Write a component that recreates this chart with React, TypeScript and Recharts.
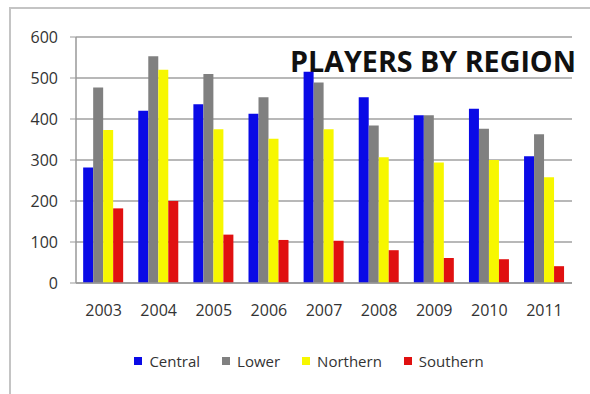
import { BarChart, Bar, XAxis, YAxis, CartesianGrid, Legend } from "recharts";

const YEARS = ["2003", "2004", "2005", "2006", "2007", "2008", "2009", "2010", "2011"];
const CENTRAL = [282, 420, 436, 413, 515, 453, 409, 425, 309];
const LOWER = [477, 553, 510, 453, 489, 384, 409, 376, 363];
const NORTHERN = [373, 520, 375, 352, 375, 307, 294, 300, 258];
const SOUTHERN = [182, 200, 118, 105, 103, 80, 61, 58, 41];
const Y_TICKS = [0, 100, 200, 300, 400, 500, 600];

const SERIES = [
  { key: "central", label: "Central", color: "#0a0ae6" },
  { key: "lower", label: "Lower", color: "#808080" },
  { key: "northern", label: "Northern", color: "#f7f700" },
  { key: "southern", label: "Southern", color: "#e01010" },
];

const data = YEARS.map((year, i) => ({
  year,
  central: CENTRAL[i],
  lower: LOWER[i],
  northern: NORTHERN[i],
  southern: SOUTHERN[i],
}));

const FONT = "'Open Sans', sans-serif";

function renderLegend(props: any) {
  const { payload } = props;
  return (
    <div style={{ display: "flex", justifyContent: "center", fontFamily: FONT, fontSize: 15, color: "#333" }}>
      {payload.map((p: any, i: number) => (
        <span
          key={p.value}
          style={{ display: "inline-flex", alignItems: "center", marginRight: i === payload.length - 1 ? 0 : 22 }}
        >
          <span style={{ width: 8, height: 8, background: p.color, display: "inline-block", marginRight: 7 }} />
          {p.value}
        </span>
      ))}
    </div>
  );
}

export default function App() {
  return (
    <div style={{ position: "fixed", left: 0, top: 0, width: 590, height: 394, background: "#fff" }}>
      <div
        style={{
          position: "absolute",
          left: 9,
          top: 7,
          right: 0,
          bottom: 0,
          borderLeft: "2px solid #c4c4c4",
          borderTop: "2px solid #c4c4c4",
        }}
      />
      <BarChart
        width={590}
        height={394}
        data={data}
        margin={{ top: 37, right: 18, left: 0, bottom: 61 }}
        barCategoryGap="13%"
        barGap={0}
        style={{ position: "absolute", left: 0, top: 0 }}
      >
        <CartesianGrid vertical={false} stroke="#a0a0a0" strokeWidth={1.5} />
        <XAxis
          dataKey="year"
          height={30}
          axisLine={{ stroke: "#999", strokeWidth: 1.5 }}
          tickLine={false}
          tickSize={6}
          tickMargin={16}
          tick={{ fill: "#333", fontSize: 16, fontFamily: FONT }}
        />
        <YAxis
          width={76}
          domain={[0, 600]}
          ticks={Y_TICKS}
          axisLine={{ stroke: "#999", strokeWidth: 1.5 }}
          tickLine={{ stroke: "#999" }}
          tickSize={6}
          tickMargin={12}
          tick={{ fill: "#333", fontSize: 16, fontFamily: FONT }}
        />
        <Legend
          verticalAlign="bottom"
          content={renderLegend}
          wrapperStyle={{ top: 351, bottom: "auto", left: 109, width: 400 }}
        />
        {SERIES.map((s) => (
          <Bar key={s.key} dataKey={s.key} name={s.label} fill={s.color} isAnimationActive={false} />
        ))}
        <text
          x={290}
          y={72}
          textLength={286}
          lengthAdjust="spacingAndGlyphs"
          style={{ fontFamily: FONT, fontWeight: 700, fontSize: 29, fill: "#111" }}
        >
          PLAYERS BY REGION
        </text>
      </BarChart>
    </div>
  );
}
